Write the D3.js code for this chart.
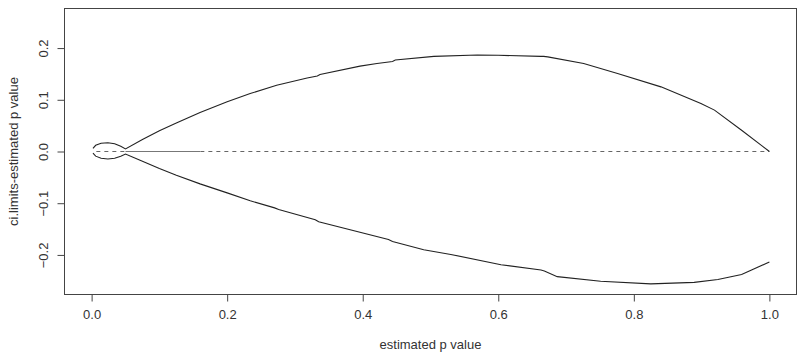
<!DOCTYPE html>
<html>
<head>
<meta charset="utf-8">
<script src="https://cdn.jsdelivr.net/npm/d3@7"></script>
<style>
  html, body { margin: 0; padding: 0; background: #fff; }
  text { font-family: "Liberation Sans", Arial, Helvetica, sans-serif; fill: #333; }
</style>
</head>
<body>
<svg id="chart" width="800" height="353"></svg>
<script>
// ---- data ----
const upperX = [0.002, 0.006, 0.014, 0.024, 0.034, 0.043, 0.05, 0.075, 0.1, 0.125, 0.16, 0.2, 0.234, 0.273, 0.318, 0.333, 0.337, 0.396, 0.421, 0.444, 0.448, 0.505, 0.569, 0.6, 0.663, 0.667, 0.673, 0.726, 0.776, 0.84, 0.899, 0.919, 0.959, 1.0];
const upperY = [0.006, 0.012, 0.016, 0.017, 0.015, 0.010, 0.005, 0.023, 0.040, 0.055, 0.0755, 0.096, 0.112, 0.128, 0.142, 0.146, 0.149, 0.165, 0.170, 0.174, 0.177, 0.184, 0.1865, 0.186, 0.184, 0.184, 0.183, 0.170, 0.151, 0.125, 0.093, 0.080, 0.041, 0.0];
const lowerX = [0.002, 0.006, 0.014, 0.024, 0.034, 0.043, 0.05, 0.075, 0.1, 0.125, 0.16, 0.2, 0.234, 0.27, 0.276, 0.33, 0.335, 0.438, 0.444, 0.49, 0.53, 0.604, 0.663, 0.668, 0.687, 0.751, 0.825, 0.889, 0.924, 0.959, 1.0];
const lowerY = [-0.003, -0.009, -0.013, -0.0145, -0.013, -0.009, -0.005, -0.019, -0.033, -0.046, -0.0626, -0.080, -0.0954, -0.109, -0.112, -0.132, -0.136, -0.170, -0.174, -0.190, -0.199, -0.219, -0.229, -0.231, -0.242, -0.251, -0.256, -0.253, -0.2476, -0.238, -0.2135];
// reference line y = 0: dense (near-solid) stretch and dashed stretch
const refDenseX = [0.05, 0.16];
const refLineX = [0.007, 1.0];
const xTicks = [0.0, 0.2, 0.4, 0.6, 0.8, 1.0];
const yTicks = [-0.2, -0.1, 0.0, 0.1, 0.2];
const xLabel = "estimated p value";
const yLabel = "ci.limits-estimated p value";

// ---- layout ----
const svg = d3.select("#chart");
const box = { left: 64.5, right: 796.5, top: 8.5, bottom: 294.5 };
const x = d3.scaleLinear().domain([-0.04, 1.04]).range([box.left, box.right]);
const y = d3.scaleLinear().domain([-0.2765, 0.2765]).range([box.bottom, box.top]);
const axisColor = "#444";

svg.append("rect").attr("width", 800).attr("height", 353).attr("fill", "#fff");

// box
svg.append("rect")
  .attr("x", box.left).attr("y", box.top)
  .attr("width", box.right - box.left).attr("height", box.bottom - box.top)
  .attr("fill", "none").attr("stroke", axisColor).attr("stroke-width", 1);

// x axis
const xAxis = d3.axisBottom(x).tickValues(xTicks).tickFormat(d3.format(".1f")).tickSize(7).tickPadding(8);
const gx = svg.append("g").attr("transform", `translate(0,${box.bottom})`).call(xAxis);
gx.select(".domain").remove();
gx.selectAll(".tick line").attr("stroke", axisColor);
gx.selectAll(".tick text").attr("font-size", 13).attr("fill", "#333")
  .style("font-family", "'Liberation Sans', Arial, sans-serif");

// y axis
const yAxis = d3.axisLeft(y).tickValues(yTicks).tickFormat(d3.format(".1f")).tickSize(7);
const gy = svg.append("g").attr("transform", `translate(${box.left},0)`).call(yAxis);
gy.select(".domain").remove();
gy.selectAll(".tick line").attr("stroke", axisColor);
gy.selectAll(".tick text")
  .attr("font-size", 13).attr("fill", "#333")
  .style("font-family", "'Liberation Sans', Arial, sans-serif")
  .attr("x", null).attr("dy", null)
  .attr("text-anchor", "middle")
  .attr("transform", "translate(-21,0) rotate(-90)")
  .attr("y", 0).attr("dy", "0.35em");
gy.selectAll(".tick text").text(d => d3.format(".1f")(d).replace("-", "\u2212"));

// axis titles
svg.append("text").attr("x", (box.left + box.right) / 2).attr("y", 349)
  .attr("text-anchor", "middle").attr("font-size", 13).text(xLabel);
svg.append("text")
  .attr("transform", `translate(18,${(box.top + box.bottom) / 2}) rotate(-90)`)
  .attr("text-anchor", "middle").attr("font-size", 13).text(yLabel);

// reference line at 0
svg.append("line")
  .attr("x1", x(refLineX[0])).attr("x2", x(refLineX[1]))
  .attr("y1", y(0)).attr("y2", y(0))
  .attr("stroke", "#666").attr("stroke-width", 1).attr("stroke-dasharray", "4,4");
svg.append("line")
  .attr("x1", x(refDenseX[0])).attr("x2", x(refDenseX[1]))
  .attr("y1", y(0)).attr("y2", y(0))
  .attr("stroke", "#777").attr("stroke-width", 1);

// curves
const line = d3.line().x(d => x(d[0])).y(d => y(d[1])).curve(d3.curveLinear);
const upper = upperX.map((v, i) => [v, upperY[i]]);
const lower = lowerX.map((v, i) => [v, lowerY[i]]);
svg.append("path").datum(upper).attr("d", line)
  .attr("fill", "none").attr("stroke", "#222").attr("stroke-width", 1.1);
svg.append("path").datum(lower).attr("d", line)
  .attr("fill", "none").attr("stroke", "#222").attr("stroke-width", 1.1);
</script>
</body>
</html>
